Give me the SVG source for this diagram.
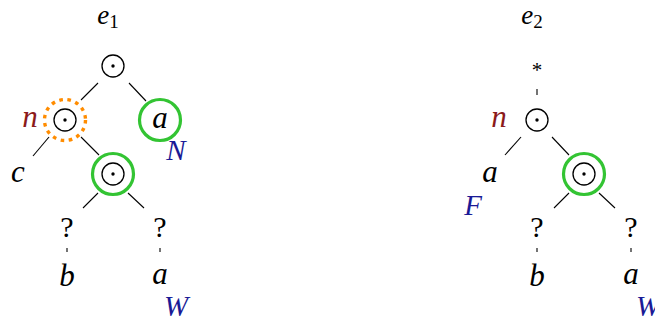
<svg xmlns="http://www.w3.org/2000/svg" width="655" height="325" viewBox="0 0 655 325">
<style>
  text { font-family: "Liberation Serif", "DejaVu Serif", serif; font-size: 31px; fill: #000; text-anchor: middle; }
  .it { font-style: italic; }
  .cap { font-size: 29px; }
  .q { font-size: 30px; }
  .lbl { font-size: 27px; }
  .red { fill: #8b1a1a; }
  .blue { fill: #1a1a96; }
  .sub { font-size: 19px; font-style: normal; }
  .op { fill: none; stroke: #000; stroke-width: 1.3; }
  .dot { fill: #000; }
  .green { fill: none; stroke: #33c433; stroke-width: 3.2; }
  .orange { fill: none; stroke: #ff8c00; stroke-width: 3.4; stroke-dasharray: 3.6 4.6; }
  .edge { stroke: #000; stroke-width: 1.1; fill: none; }
</style>

<!-- Left tree -->
<g id="e1-label"><text x="108" y="24" class="it lbl">e<tspan class="sub" dy="4">1</tspan></text></g>
<g id="l-root"><circle cx="113" cy="66" r="11" class="op"/><circle cx="113" cy="66" r="1.7" class="dot"/></g>
<g id="l-n">
  <circle cx="65" cy="120" r="20.5" class="orange"/>
  <circle cx="65" cy="120" r="11" class="op"/><circle cx="65" cy="120" r="1.7" class="dot"/>
  <text x="30" y="127" class="it red">n</text>
</g>
<g id="l-a">
  <circle cx="160" cy="120" r="20.5" class="green"/>
  <text x="160" y="128" class="it">a</text>
  <text x="176" y="160" class="it blue cap">N</text>
</g>
<g id="l-c"><text x="18" y="182" class="it">c</text></g>
<g id="l-op2">
  <circle cx="113" cy="174" r="20.5" class="green"/>
  <circle cx="113" cy="174" r="11" class="op"/><circle cx="113" cy="174" r="1.7" class="dot"/>
</g>
<g id="l-q1"><text x="67" y="237" class="q">?</text></g>
<g id="l-q2"><text x="160" y="237" class="q">?</text></g>
<g id="l-b"><text x="67" y="286" class="it">b</text></g>
<g id="l-a2">
  <text x="160" y="284" class="it">a</text>
  <text x="176" y="316" class="it blue cap">W</text>
</g>

<!-- Right tree -->
<g id="e2-label"><text x="532" y="24" class="it lbl">e<tspan class="sub" dy="4">2</tspan></text></g>
<g id="r-star"><text x="537" y="77" style="font-size:21px">*</text></g>
<g id="r-root">
  <circle cx="537" cy="120" r="11" class="op"/><circle cx="537" cy="120" r="1.7" class="dot"/>
  <text x="499" y="127" class="it red">n</text>
</g>
<g id="r-a">
  <text x="490" y="182" class="it">a</text>
  <text x="473" y="215" class="it blue cap">F</text>
</g>
<g id="r-op2">
  <circle cx="584" cy="174" r="20.5" class="green"/>
  <circle cx="584" cy="174" r="11" class="op"/><circle cx="584" cy="174" r="1.7" class="dot"/>
</g>
<g id="r-q1"><text x="537" y="237" class="q">?</text></g>
<g id="r-q2"><text x="631" y="237" class="q">?</text></g>
<g id="r-b"><text x="537" y="286" class="it">b</text></g>
<g id="r-a2">
  <text x="631" y="284" class="it">a</text>
  <text x="648" y="316" class="it blue cap">W</text>
</g>

<g id="connectors">
  <line x1="98" y1="83" x2="81" y2="100" class="edge"/>
  <line x1="129" y1="83" x2="146" y2="101" class="edge"/>
  <line x1="49" y1="137" x2="33" y2="156" class="edge"/>
  <line x1="81" y1="137" x2="99" y2="155" class="edge"/>
  <line x1="98" y1="193" x2="83" y2="208" class="edge"/>
  <line x1="128" y1="193" x2="144" y2="208" class="edge"/>
  <line x1="67" y1="248" x2="67" y2="252" class="edge"/>
  <line x1="160" y1="248" x2="160" y2="252" class="edge"/>

  <line x1="537" y1="89" x2="537" y2="95" class="edge"/>
  <line x1="521" y1="137" x2="505" y2="155" class="edge"/>
  <line x1="552" y1="137" x2="569" y2="155" class="edge"/>
  <line x1="569" y1="193" x2="554" y2="208" class="edge"/>
  <line x1="599" y1="193" x2="615" y2="208" class="edge"/>
  <line x1="537" y1="248" x2="537" y2="252" class="edge"/>
  <line x1="631" y1="248" x2="631" y2="252" class="edge"/>
</g>
</svg>
